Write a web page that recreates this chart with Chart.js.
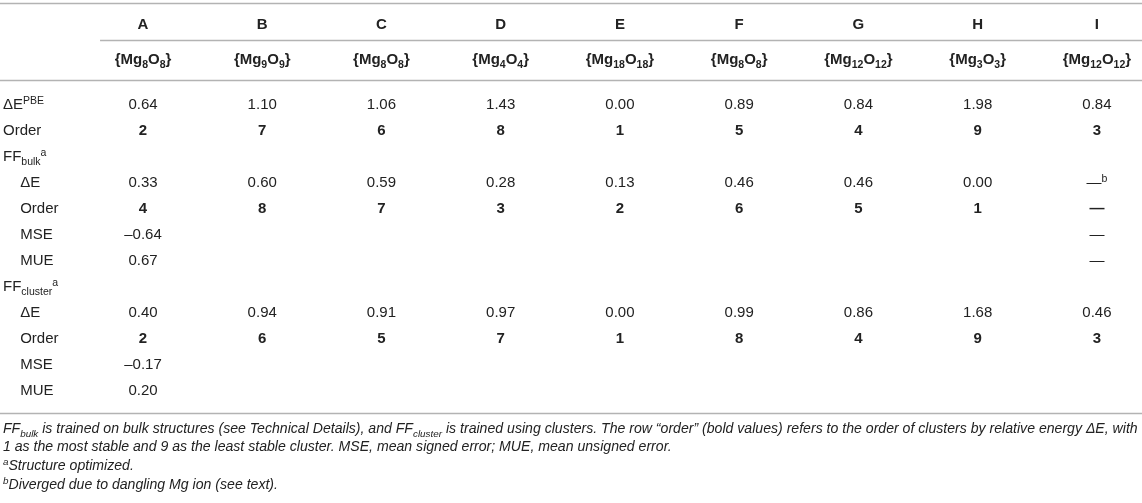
<!DOCTYPE html>
<html>
<head>
<meta charset="utf-8">
<script src="https://cdn.jsdelivr.net/npm/chart.js@4.4.1/dist/chart.umd.min.js"></script>
<style>
html, body { margin: 0; padding: 0; background: #fff; }
#wrap { width: 1142px; height: 503px; position: relative; }
</style>
</head>
<body>
<div id="wrap"><canvas id="tbl"></canvas></div>
<script>
// table content
const clusters = ['A', 'B', 'C', 'D', 'E', 'F', 'G', 'H', 'I']
const formulas = ['{Mg_{8}O_{8}}', '{Mg_{9}O_{9}}', '{Mg_{8}O_{8}}', '{Mg_{4}O_{4}}', '{Mg_{18}O_{18}}',
                  '{Mg_{8}O_{8}}', '{Mg_{12}O_{12}}', '{Mg_{3}O_{3}}', '{Mg_{12}O_{12}}']
const dEPBE      = [0.64, 1.10, 1.06, 1.43, 0.00, 0.89, 0.84, 1.98, 0.84]
const orderPBE   = [2, 7, 6, 8, 1, 5, 4, 9, 3]
const dEBulk     = [0.33, 0.60, 0.59, 0.28, 0.13, 0.46, 0.46, 0.00, '—^{b}']
const orderBulk  = [4, 8, 7, 3, 2, 6, 5, 1, '—']
const mseBulk    = [-0.64, null, null, null, null, null, null, null, '—']
const mueBulk    = [0.67, null, null, null, null, null, null, null, '—']
const dECluster    = [0.40, 0.94, 0.91, 0.97, 0.00, 0.99, 0.86, 1.68, 0.46]
const orderCluster = [2, 6, 5, 7, 1, 8, 4, 9, 3]
const mseCluster   = [-0.17, null, null, null, null, null, null, null, null]
const mueCluster   = [0.20, null, null, null, null, null, null, null, null]

// row label, indent, values, bold
const rows = [
  ['ΔE^{PBE}', false, dEPBE, false],
  ['Order', false, orderPBE, true],
  ['FF_{bulk}^{a}', false, null, false],
  ['ΔE', true, dEBulk, false],
  ['Order', true, orderBulk, true],
  ['MSE', true, mseBulk, false],
  ['MUE', true, mueBulk, false],
  ['FF_{cluster}^{a}', false, null, false],
  ['ΔE', true, dECluster, false],
  ['Order', true, orderCluster, true],
  ['MSE', true, mseCluster, false],
  ['MUE', true, mueCluster, false]
]

const footnotes = [
  'FF_{bulk} is trained on bulk structures (see Technical Details), and FF_{cluster} is trained using clusters. The row “order” (bold values) refers to the order of clusters by relative energy ΔE, with',
  '1 as the most stable and 9 as the least stable cluster. MSE, mean signed error; MUE, mean unsigned error.',
  '^{a}Structure optimized.',
  '^{b}Diverged due to dangling Mg ion (see text).'
]

// layout in scale units (x: column index, y: row index)
const LAYOUT = {
  labelX: -1.174, indentX: -1.03, subRuleX: -0.36,
  letterY: -3.08, formulaY: -1.73,
  rules: [-3.88, -2.46, -0.92, 11.88],
  footY: [12.46, 13.15, 13.88, 14.6]
}

const fmt = (v) => {
  if (v === null || v === undefined) return ''
  if (typeof v === 'string') return v
  if (Number.isInteger(v) && Math.abs(v) >= 1) return String(v)
  return (v < 0 ? '–' : '') + Math.abs(v).toFixed(2)
}

const FAMILY = '"Liberation Sans", Arial, Helvetica, sans-serif'
const INK = '#222'

// split "A_{x}^{y}" into segments
const parseRich = (str) => {
  const segs = []
  const re = /([_^])\{([^}]*)\}/g
  let last = 0, m
  while ((m = re.exec(str)) !== null) {
    if (m.index > last) segs.push({ t: str.slice(last, m.index), k: 0 })
    segs.push({ t: m[2], k: m[1] === '_' ? 1 : -1 })
    last = re.lastIndex
  }
  if (last < str.length) segs.push({ t: str.slice(last), k: 0 })
  return segs
}

const drawRich = (ctx, str, x, y, align, size, weight, style) => {
  const segs = parseRich(str)
  const fontFor = (s) => `${style || 'normal'} ${weight || 'normal'} ${s.k ? size * 0.7 : size}px ${FAMILY}`
  let total = 0
  segs.forEach(s => { ctx.font = fontFor(s); s.w = ctx.measureText(s.t).width; total += s.w })
  let cx = align === 'center' ? x - total / 2 : x
  const base = y + size * 0.36
  ctx.textAlign = 'left'
  ctx.textBaseline = 'alphabetic'
  segs.forEach(s => {
    ctx.font = fontFor(s)
    const off = s.k === 1 ? size * 0.26 : s.k === -1 ? -size * 0.36 : 0
    ctx.fillText(s.t, cx, base + off)
    cx += s.w
  })
}

const tablePlugin = {
  id: 'tablePlugin',
  afterDatasetsDraw(chart) {
    const ctx = chart.ctx
    const xs = chart.scales.x, ys = chart.scales.y
    ctx.save()
    ctx.fillStyle = INK

    // horizontal rules
    ctx.strokeStyle = '#b3b3b3'
    ctx.lineWidth = 1.5
    LAYOUT.rules.forEach((r, i) => {
      const py = Math.round(ys.getPixelForValue(r)) + 0.5
      const x0 = i === 1 ? xs.getPixelForValue(LAYOUT.subRuleX) : chart.chartArea.left
      ctx.beginPath()
      ctx.moveTo(x0, py)
      ctx.lineTo(chart.chartArea.right, py)
      ctx.stroke()
    })

    // column headers
    clusters.forEach((c, i) => {
      drawRich(ctx, c, xs.getPixelForValue(i), ys.getPixelForValue(LAYOUT.letterY), 'center', 15, 'bold')
      drawRich(ctx, formulas[i], xs.getPixelForValue(i), ys.getPixelForValue(LAYOUT.formulaY), 'center', 15, 'bold')
    })

    // row labels
    rows.forEach((row, r) => {
      const lx = xs.getPixelForValue(row[1] ? LAYOUT.indentX : LAYOUT.labelX)
      drawRich(ctx, row[0], lx, ys.getPixelForValue(r), 'left', 15)
    })

    // cells, positioned by the dataset points
    chart.data.datasets.forEach((ds, d) => {
      const meta = chart.getDatasetMeta(d)
      meta.data.forEach((pt, j) => {
        drawRich(ctx, ds.data[j].txt, pt.x, pt.y, 'center', 15, ds.bold ? 'bold' : 'normal')
      })
    })

    // footnotes
    footnotes.forEach((f, i) => {
      drawRich(ctx, f, xs.getPixelForValue(LAYOUT.labelX), ys.getPixelForValue(LAYOUT.footY[i]), 'left', 14.1, 'normal', 'italic')
    })
    ctx.restore()
  }
}

const datasets = rows.filter(r => r[2]).map(r => {
  const rowIndex = rows.indexOf(r)
  return {
    label: r[0],
    bold: r[3],
    pointRadius: 0,
    data: r[2].map((v, i) => ({ x: i, y: rowIndex, txt: fmt(v) })).filter(p => p.txt !== '')
  }
})

new Chart(document.getElementById('tbl'), {
  type: 'scatter',
  data: { datasets: datasets },
  options: {
    responsive: true,
    maintainAspectRatio: false,
    animation: false,
    layout: { padding: 0 },
    plugins: { legend: { display: false }, tooltip: { enabled: false } },
    scales: {
      x: { type: 'linear', display: false, min: -1.199, max: 8.378 },
      y: { type: 'linear', display: false, reverse: true, min: -4, max: 15.346 }
    }
  },
  plugins: [tablePlugin]
})
</script>
</body>
</html>
